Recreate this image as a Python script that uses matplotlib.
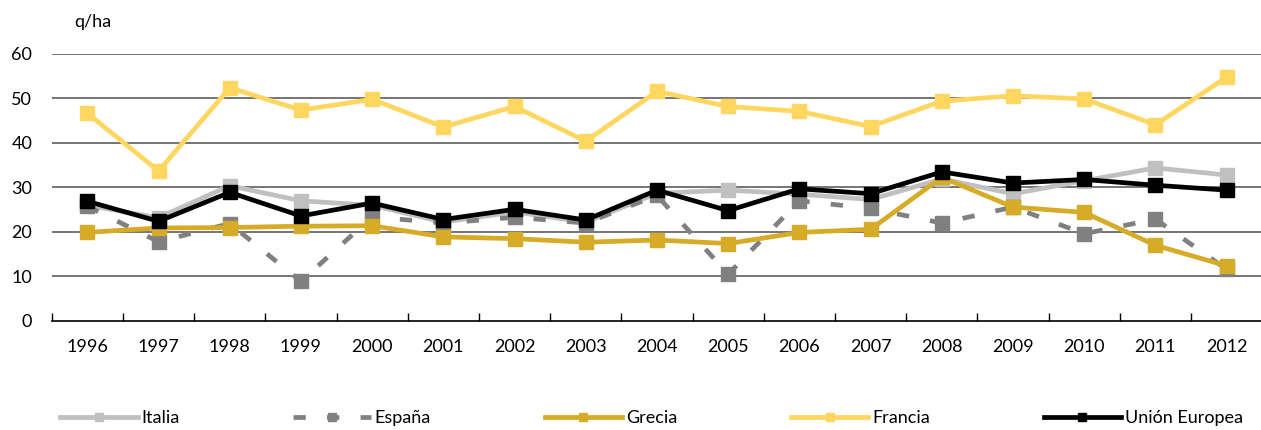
import matplotlib
matplotlib.use("Agg")
import matplotlib.pyplot as plt
from matplotlib.ticker import FixedLocator
import numpy as np

plt.rcParams['font.family'] = ['Lato', 'DejaVu Sans']

years = ["1996", "1997", "1998", "1999", "2000", "2001", "2002", "2003", "2004",
         "2005", "2006", "2007", "2008", "2009", "2010", "2011", "2012"]
italia = [26.0, 23.2, 30.4, 27.0, 26.0, 22.2, 24.5, 22.2, 28.7, 29.4, 28.5, 27.3, 31.9, 28.6, 31.5, 34.4, 32.8]
espana = [25.8, 17.8, 21.9, 8.9, 23.4, 22.0, 23.3, 22.0, 28.2, 10.5, 27.0, 25.3, 22.0, 25.6, 19.6, 22.9, 11.6]
grecia = [19.9, 20.9, 21.0, 21.3, 21.4, 18.9, 18.5, 17.7, 18.2, 17.4, 19.9, 20.6, 32.3, 25.6, 24.4, 17.0, 12.4]
francia = [46.7, 33.7, 52.4, 47.4, 49.8, 43.6, 48.2, 40.4, 51.6, 48.2, 47.1, 43.7, 49.4, 50.6, 49.9, 44.1, 54.8]
ue = [26.9, 22.4, 28.9, 23.6, 26.5, 22.8, 25.1, 22.7, 29.4, 24.8, 29.7, 28.6, 33.5, 31.0, 31.8, 30.5, 29.4]
yticks = [0, 10, 20, 30, 40, 50, 60]

fig = plt.figure(figsize=(12.61, 4.30), dpi=100)
ax = fig.add_axes([0.041, 0.2535, 0.96, 0.621])

x = np.arange(len(years))
lw = 3.4
ms = 10
ax.plot(x, italia, color="#c0c0c0", lw=lw, marker="s", ms=ms, label="Italia", zorder=3)
ax.plot(x, espana, color="#808080", lw=lw, marker="s", ms=ms, dashes=(2.6, 4.5),
        label="España", zorder=4)
ax.plot(x, grecia, color="#d6ab28", lw=lw, marker="s", ms=ms, label="Grecia", zorder=5)
ax.plot(x, francia, color="#fed660", lw=lw, marker="s", ms=ms, label="Francia", zorder=6)
ax.plot(x, ue, color="black", lw=lw, marker="s", ms=ms, label="Unión Europea", zorder=7)

ax.set_xlim(-0.5, len(years) - 0.5)
ax.set_ylim(0, 60)
ax.set_yticks(yticks)
ax.set_xticks(x)
ax.set_xticklabels(years)
ax.xaxis.set_minor_locator(FixedLocator(np.arange(-0.5, len(years), 1)))
ax.tick_params(axis="x", which="major", length=0, pad=13, labelsize=13)
ax.tick_params(axis="x", which="minor", direction="in", length=6, width=1, color="black")
ax.tick_params(axis="y", length=0, pad=14, labelsize=13)

for s in ["top", "right", "left"]:
    ax.spines[s].set_visible(False)
ax.spines["bottom"].set_linewidth(1.2)
ax.spines["bottom"].set_zorder(10)

for v in yticks[1:]:
    ax.axhline(v, color="#6a6a6a", lw=1.3, zorder=1)

fig.text(0.059, 0.949, "q/ha", fontsize=13, va="center", ha="left")

fig.legend(loc="center left", bbox_to_anchor=(0.0476, 0.028), ncol=5, frameon=False,
           fontsize=13, handlelength=4.3, handletextpad=0.2, columnspacing=6.3,
           borderpad=0, borderaxespad=0, markerscale=0.6)

fig.savefig("out.png", dpi=100)
